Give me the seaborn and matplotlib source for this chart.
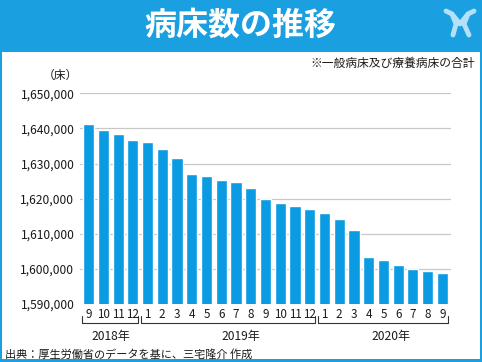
import matplotlib
matplotlib.use("Agg")
import matplotlib.pyplot as plt
import seaborn as sns
import pandas as pd
from matplotlib.patches import Rectangle
from matplotlib.lines import Line2D

# ---- data ----
years = ["2018年", "2019年", "2020年"]
months_2018 = [9, 10, 11, 12]
months_2019 = [1, 2, 3, 4, 5, 6, 7, 8, 9, 10, 11, 12]
months_2020 = [1, 2, 3, 4, 5, 6, 7, 8, 9]
beds = [
    1641400, 1639500, 1638400, 1636600,
    1636200, 1634000, 1631500, 1627100, 1626400, 1625200, 1624600, 1622900,
    1619800, 1618900, 1618000, 1617000,
    1616000, 1614200, 1611200, 1603300, 1602400, 1601200, 1600100, 1599400, 1598700,
]
y_ticks = [1590000, 1600000, 1610000, 1620000, 1630000, 1640000, 1650000]

BLUE = "#1a9fe0"
BAR = "#0b9be3"

groups = [months_2018, months_2019, months_2020]
rows = []
for yr, ms in zip(years, groups):
    for m in ms:
        rows.append((f"{yr}{m}", yr, str(m)))
df = pd.DataFrame(rows, columns=["period", "year", "month"])
df["beds"] = beds

sns.set_theme(style="white")
plt.rcParams['font.family'] = ['Noto Sans CJK JP', 'DejaVu Sans']

W, H = 482, 362
fig = plt.figure(figsize=(W / 100, H / 100), dpi=100)
fig.patch.set_facecolor(BLUE)
fig.patches.append(Rectangle((2 / W, 3 / H), 478 / W, 307 / H,
                             transform=fig.transFigure, facecolor="white",
                             edgecolor="none", zorder=-10))

ax = fig.add_axes([80 / W, 58 / H, 371 / W, 210.7 / H])
ax.set_zorder(1)
ax.set_facecolor("white")
sns.barplot(data=df, x="period", y="beds", color=BAR, width=0.75,
            saturation=1, ax=ax, zorder=3)
ax.set_ylim(y_ticks[0], y_ticks[-1])
ax.set_xlim(-0.58, len(beds) - 1 + 0.58)
ax.set_yticks(y_ticks)
ax.set_yticklabels([f"{v:,}" for v in y_ticks], fontsize=8.7, color="#1a1a1a")
ax.set_xticks(range(len(beds)))
ax.set_xticklabels(df["month"], fontsize=8.4, color="#1a1a1a")
ax.tick_params(axis="y", length=0, pad=4)
ax.tick_params(axis="x", length=0, pad=3)
ax.grid(axis="y", color="#c8c8c8", linewidth=0.9, zorder=0)
ax.set_axisbelow(True)
for s in ax.spines.values():
    s.set_visible(False)
ax.set_xlabel("")
ax.set_ylabel("")

# year brackets
tr = ax.get_xaxis_transform()
start = 0
year_pos = [1.5, 10.3, 20.5]
for yr, ms, yp in zip(years, groups, year_pos):
    x0 = start - 0.42
    x1 = start + len(ms) - 1 + 0.38
    ax.plot([x0, x0, x1, x1], [-0.057, -0.090, -0.090, -0.057], transform=tr,
            color="#333333", linewidth=0.8, clip_on=False)
    ax.text(yp, -0.152, yr, transform=tr, ha="center", va="center",
            fontsize=8.7, color="#1a1a1a")
    start += len(ms)

# texts
fig.text(240 / W, 1 - 26 / H, "病床数の推移", ha="center", va="center",
         fontsize=23, fontweight="bold", color="white")
fig.text(475 / W, 1 - 63 / H, "※一般病床及び療養病床の合計", ha="right",
         va="center", fontsize=8.5, color="#1a1a1a")
fig.text(78 / W, 1 - 75 / H, "（床）", ha="right", va="center",
         fontsize=8.5, color="#1a1a1a")
fig.text(5 / W, 1 - 354 / H, "出典：厚生労働省のデータを基に、三宅隆介 作成",
         ha="left", va="center", fontsize=8, color="#1a1a1a")

# logo (decorative)
LOGO = "#b3e1f8"
def px(x, y):
    return (x / W, 1 - y / H)
for seg in [[(446, 11), (452, 14), (456, 24), (453, 35)],
            [(474, 11), (468, 14), (464, 24), (469, 35)],
            [(452, 14), (460, 24), (468, 14)]]:
    xs = [px(*p)[0] for p in seg]
    ys = [px(*p)[1] for p in seg]
    fig.add_artist(Line2D(xs, ys, transform=fig.transFigure, color=LOGO,
                          linewidth=3.5, solid_capstyle="round"))

fig.savefig("out.png", dpi=100, facecolor=fig.get_facecolor())
